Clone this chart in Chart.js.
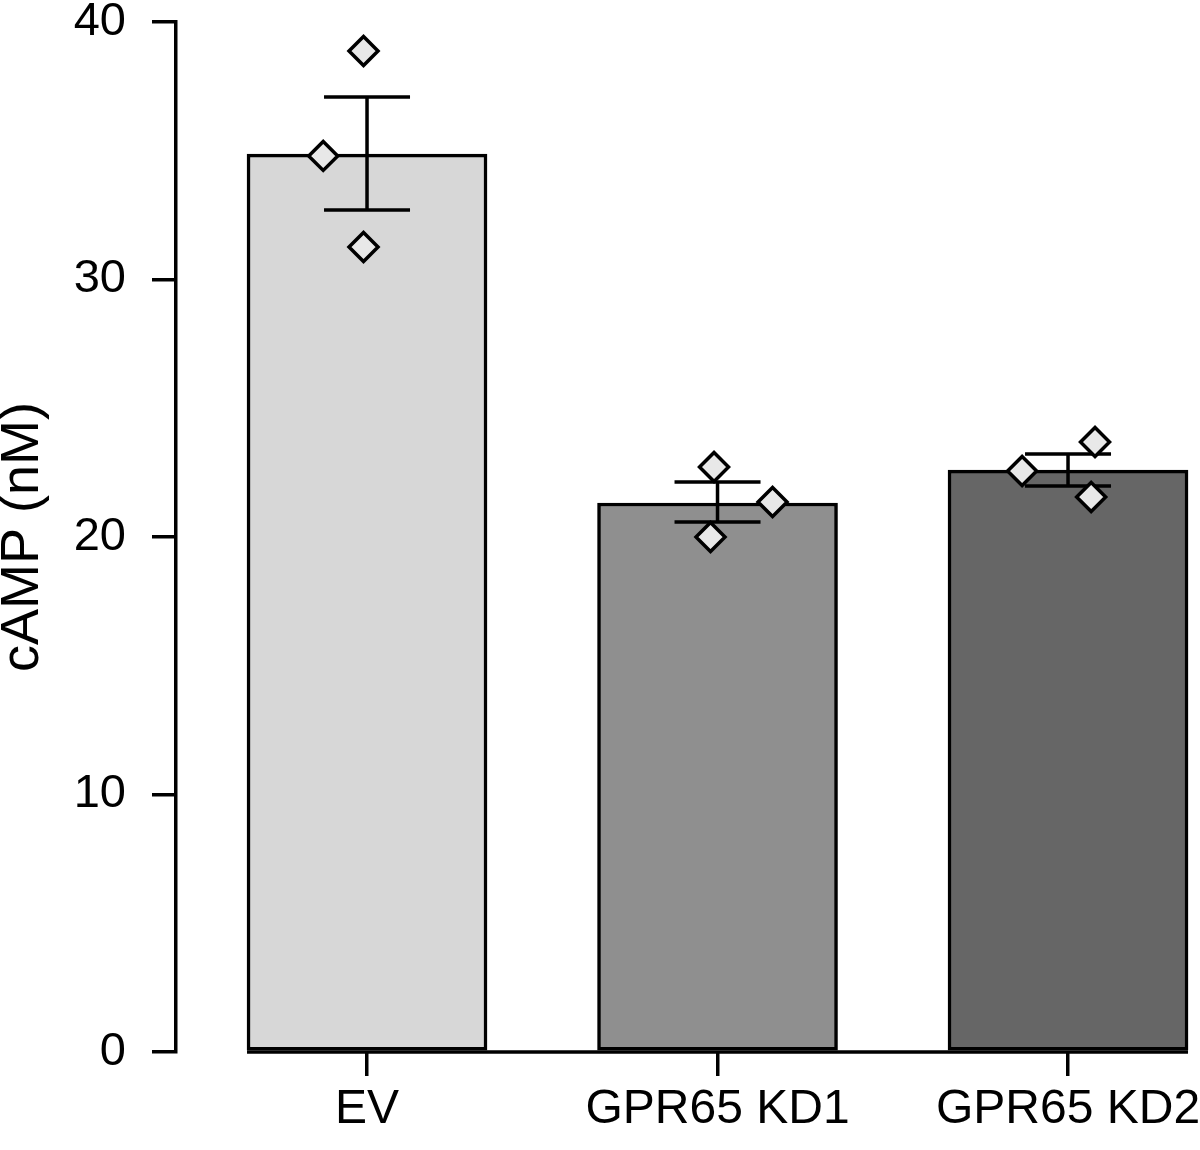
<!DOCTYPE html>
<html>
<head>
<meta charset="utf-8">
<script src="https://cdn.jsdelivr.net/npm/chart.js@4/dist/chart.umd.min.js"></script>
<style>
  html, body { margin: 0; padding: 0; background: #fff; }
  #wrap { width: 1200px; height: 1150px; }
</style>
</head>
<body>
<div id="wrap"><canvas id="myChart" width="1200" height="1150"></canvas></div>
<script>
// values
const groups = ['EV', 'GPR65 KD1', 'GPR65 KD2'];
const means = [34.87, 21.32, 22.60];
const errUpper = [37.09, 22.14, 23.22];
const errLower = [32.70, 20.58, 21.98];
const replicates = [
    [38.87, 34.80, 31.26],
    [22.72, 21.36, 20.00],
    [23.69, 22.56, 21.55]
];
// horizontal jitter of the replicate points, in category units
const jitter = [
    [-0.01, -0.125, -0.01],
    [-0.01, 0.157, -0.02],
    [0.077, -0.131, 0.066]
];
const yTicks = [0, 10, 20, 30, 40];

const barColors = ['#d7d7d7', '#8f8f8f', '#666666'];
const FONT = 'Liberation Sans, Arial, Helvetica, sans-serif';
const LW = 3.5;

let points = [];
replicates.forEach((vals, i) => {
    vals.forEach((v, j) => points.push({ x: i + jitter[i][j], y: v }));
});

const errorBars = {
    id: 'errorBars',
    afterDatasetDraw(chart, args) {
        if (args.meta.type !== 'bar') return;
        const ctx = chart.ctx;
        const x = chart.scales.x, y = chart.scales.y;
        ctx.save();
        ctx.strokeStyle = '#000';
        ctx.lineWidth = LW;
        groups.forEach((g, i) => {
            const cx = x.getPixelForValue(i);
            const top = y.getPixelForValue(errUpper[i]);
            const bot = y.getPixelForValue(errLower[i]);
            ctx.beginPath();
            ctx.moveTo(cx, top); ctx.lineTo(cx, bot);
            ctx.moveTo(cx - 43, top); ctx.lineTo(cx + 43, top);
            ctx.moveTo(cx - 43, bot); ctx.lineTo(cx + 43, bot);
            ctx.stroke();
        });
        // x axis line only under the bars
        const bars = args.meta.data;
        const left = bars[0].x - bars[0].width / 2;
        const right = bars[bars.length - 1].x + bars[bars.length - 1].width / 2;
        const y0 = y.getPixelForValue(0);
        ctx.beginPath();
        ctx.moveTo(left, y0); ctx.lineTo(right, y0);
        ctx.stroke();
        ctx.restore();
    }
};

new Chart(document.getElementById('myChart'), {
    type: 'bar',
    data: {
        datasets: [{
            type: 'scatter',
            data: points,
            pointStyle: 'rectRot',
            pointRadius: 14.5,
            pointBorderWidth: LW,
            pointBackgroundColor: '#e8e8e8',
            pointBorderColor: '#000',
            order: 0
        }, {
            type: 'bar',
            data: means.map((v, i) => ({ x: i, y: v })),
            backgroundColor: barColors,
            borderColor: '#000',
            borderWidth: LW,
            borderSkipped: false,
            barThickness: 240,
            order: 1
        }]
    },
    options: {
        responsive: false,
        animation: false,
        layout: { autoPadding: false, padding: { top: 22, right: 10, left: 0, bottom: 0 } },
        plugins: { legend: { display: false }, tooltip: { enabled: false } },
        scales: {
            x: {
                type: 'linear',
                offset: false,
                min: -0.545,
                max: 2.348,
                afterBuildTicks: (s) => { s.ticks = groups.map((g, i) => ({ value: i })); },
                afterFit: (s) => { s.height = 98; s.paddingLeft = 0; s.paddingRight = 0; },
                border: { display: false },
                grid: { offset: false, drawOnChartArea: false, drawTicks: true, tickLength: 24, lineWidth: LW, color: '#000' },
                ticks: {
                    callback: (v) => groups[v],
                    color: '#000',
                    font: { family: FONT, size: 48 },
                    padding: 5,
                    maxRotation: 0,
                    autoSkip: false
                }
            },
            y: {
                min: 0,
                max: 40,
                afterBuildTicks: (s) => { s.ticks = yTicks.map(v => ({ value: v })); },
                afterFit: (s) => { s.width = 176; s.paddingTop = 0; s.paddingBottom = 0; },
                border: { display: true, color: '#000', width: LW },
                grid: { drawOnChartArea: false, drawTicks: true, tickLength: 24, lineWidth: LW, color: '#000' },
                ticks: {
                    color: '#000',
                    font: { family: FONT, size: 47 },
                    padding: 26
                },
                title: {
                    display: true,
                    text: 'cAMP (nM)',
                    color: '#000',
                    font: { family: FONT, size: 54 },
                    padding: { top: -9, bottom: 0 }
                }
            }
        }
    },
    plugins: [errorBars]
});
</script>
</body>
</html>
